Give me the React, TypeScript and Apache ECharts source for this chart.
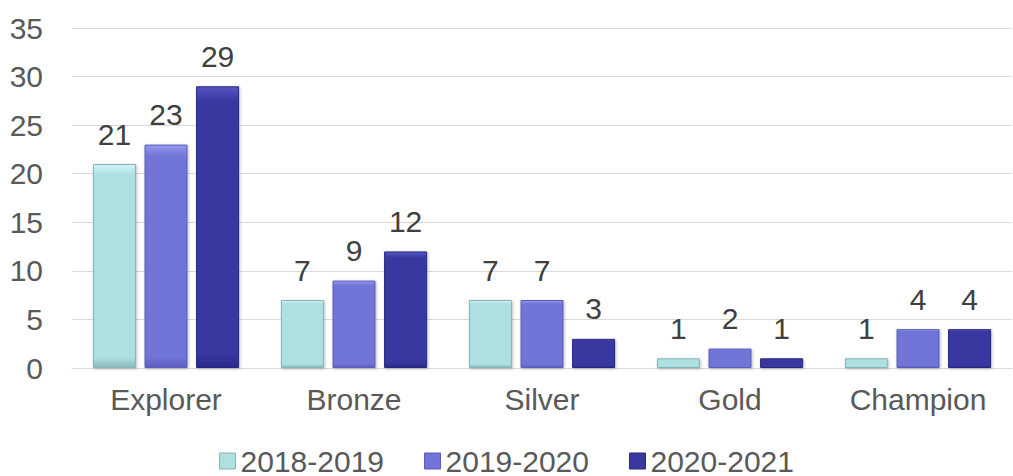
import React, { useEffect, useRef } from "react";
import * as echarts from "echarts";

const categories = ["Explorer", "Bronze", "Silver", "Gold", "Champion"];
const seriesNames = ["2018-2019", "2019-2020", "2020-2021"];
const s2018 = [21, 7, 7, 1, 1];
const s2019 = [23, 9, 7, 2, 4];
const s2020 = [29, 12, 3, 1, 4];
const yTicks = [0, 5, 10, 15, 20, 25, 30, 35];

const palettes = [
  { top: "#d2f6f7", mid: "#aee0e2", bottom: "#8ab8b9", border: "#86b3b4" },
  { top: "#9597ee", mid: "#7274d8", bottom: "#5e60c2", border: "#5a5cb8" },
  { top: "#5656c4", mid: "#3838a0", bottom: "#2a2a88", border: "#28287e" },
];

function grad(p: any) {
  return new echarts.graphic.LinearGradient(0, 0, 0, 1, [
    { offset: 0, color: p.top },
    { offset: 0.05, color: p.mid },
    { offset: 0.95, color: p.mid },
    { offset: 1, color: p.bottom },
  ]);
}

export default function App() {
  const ref = useRef<HTMLDivElement>(null);
  useEffect(() => {
    const chart = echarts.init(ref.current!, null, { renderer: "svg" });
    const data = [s2018, s2019, s2020];
    chart.setOption({
      animation: false,
      textStyle: { fontFamily: "Liberation Sans, Arial, sans-serif" },
      grid: { left: 72, right: 1, top: 28, bottom: 108, containLabel: false },
      legend: {
        bottom: -5,
        left: "center",
        itemWidth: 16,
        itemHeight: 16,
        itemGap: 40,
        textStyle: { fontSize: 30, color: "#595959", padding: [0, 0, 0, 0] },
        data: seriesNames.map((n, i) => ({
          name: n,
          icon: "rect",
          itemStyle: { color: palettes[i].mid, borderColor: palettes[i].border, borderWidth: 1 },
        })),
      },
      xAxis: {
        type: "category",
        data: categories,
        axisLine: { show: true, lineStyle: { color: "#d9d9d9", width: 1 } },
        axisTick: { show: false },
        axisLabel: { fontSize: 30, color: "#595959", margin: 16 },
      },
      yAxis: {
        type: "value",
        min: yTicks[0],
        max: yTicks[yTicks.length - 1],
        interval: 5,
        axisLine: { show: false },
        axisTick: { show: false },
        axisLabel: { fontSize: 30, color: "#595959", margin: 29 },
        splitLine: { lineStyle: { color: "#d9d9d9", width: 1 } },
      },
      series: seriesNames.map((n, i) => ({
        name: n,
        type: "bar",
        data: data[i],
        barWidth: 43,
        barGap: "20%",
        itemStyle: {
          color: grad(palettes[i]),
          borderColor: palettes[i].border,
          borderWidth: 1,
          shadowColor: "rgba(0,0,0,0.25)",
          shadowBlur: 3,
          shadowOffsetX: 1,
          shadowOffsetY: 1,
        },
        label: {
          show: true,
          position: "top",
          distance: 15,
          fontSize: 30,
          color: "#404040",
        },
      })),
    });
    return () => chart.dispose();
  }, []);
  return <div ref={ref} style={{ width: 1013, height: 476, position: "absolute", left: 0, top: 0 }} />;
}
